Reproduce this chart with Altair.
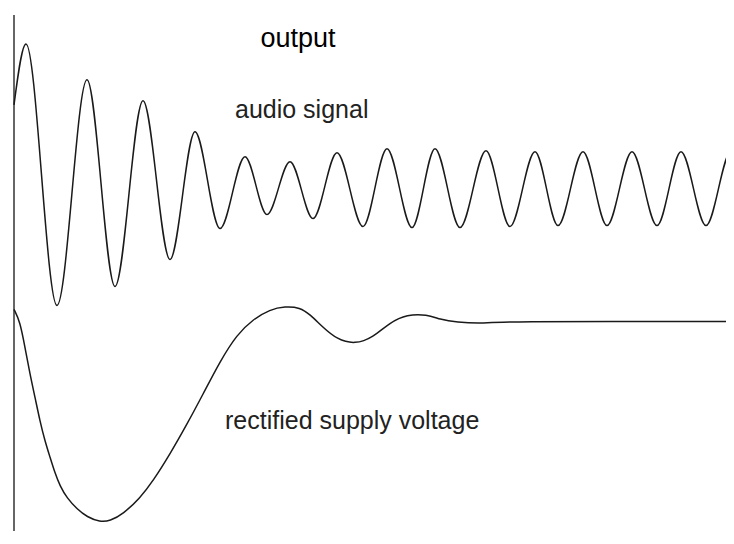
import altair as alt
import pandas as pd

# Audio signal: time (t) and level read at the peaks / troughs of the trace
audio_t = [0, 12, 43, 73, 101, 129, 156, 181, 206, 231, 253, 276, 299, 323, 349,
           373, 398, 421, 446, 472, 496, 521, 544, 569, 593, 618, 643, 667, 692, 717, 720]
audio_v = [439, 500, 238, 464, 257, 443, 284, 412, 315, 387, 329, 382, 325, 391, 317,
           395, 316, 395, 316, 393, 317, 392, 318, 392, 318, 392, 318, 392, 318, 392, 388]

# Rectified supply voltage
supply_t = [0, 6, 11, 16, 21, 26, 31, 36, 41, 46, 53, 63, 73, 86, 96, 109, 126, 139,
            156, 173, 189, 206, 223, 239, 256, 271, 286, 296, 309, 323, 341, 359, 376,
            393, 413, 426, 441, 474, 479, 720]
supply_v = [234, 222, 196, 169, 146, 122, 102, 86, 70, 57, 45, 34, 26, 21, 22, 29, 45, 62,
            89, 119, 149, 182, 209, 224, 234, 237, 236, 229, 216, 204, 199, 206, 221,
            229, 229, 224, 221, 220, 222, 222]

# Annotations
label_text = ["output", "audio signal", "rectified supply voltage"]
label_t = [284, 221, 211]
label_v = [497, 426, 114]
label_align = ["center", "left", "left"]
label_color = ["#000000", "#222222", "#222222"]
label_size = [27, 25, 25]

audio_df = pd.DataFrame({"t": audio_t, "v": audio_v, "series": "audio signal"})
supply_df = pd.DataFrame({"t": supply_t, "v": supply_v, "series": "rectified supply voltage"})
labels_df = pd.DataFrame({"text": label_text, "t": label_t, "v": label_v})
axis_df = pd.DataFrame({"t": [0], "v": [529], "v2": [12]})

xs = alt.Scale(domain=[-6, 712], nice=False, zero=False)
ys = alt.Scale(domain=[12, 536], nice=False, zero=False)

def curve(df, interp):
    return alt.Chart(df).mark_line(
        interpolate=interp, color="#1a1a1a", strokeWidth=1.5, clip=True
    ).encode(
        x=alt.X("t:Q", scale=xs, axis=None),
        y=alt.Y("v:Q", scale=ys, axis=None),
    )

axis_rule = alt.Chart(axis_df).mark_rule(color="#333333", strokeWidth=1.5).encode(
    x=alt.X("t:Q", scale=xs, axis=None),
    y=alt.Y("v:Q", scale=ys, axis=None),
    y2="v2:Q",
)

def text_layer(i):
    sub = labels_df.iloc[[i]]
    return alt.Chart(sub).mark_text(
        align=label_align[i], baseline="alphabetic", font="Liberation Sans",
        fontSize=label_size[i], color=label_color[i]
    ).encode(
        x=alt.X("t:Q", scale=xs, axis=None),
        y=alt.Y("v:Q", scale=ys, axis=None),
        text="text:N",
    )

chart = alt.layer(
    axis_rule, curve(audio_df, "monotone"), curve(supply_df, "basis"),
    text_layer(0), text_layer(1), text_layer(2)
).properties(
    width=718, height=524, padding=0,
    autosize=alt.AutoSizeParams(type="fit", contains="padding"),
    background="white",
).configure_view(stroke=None)

chart.save("out.html", embed_options={"renderer": "svg", "actions": False})
